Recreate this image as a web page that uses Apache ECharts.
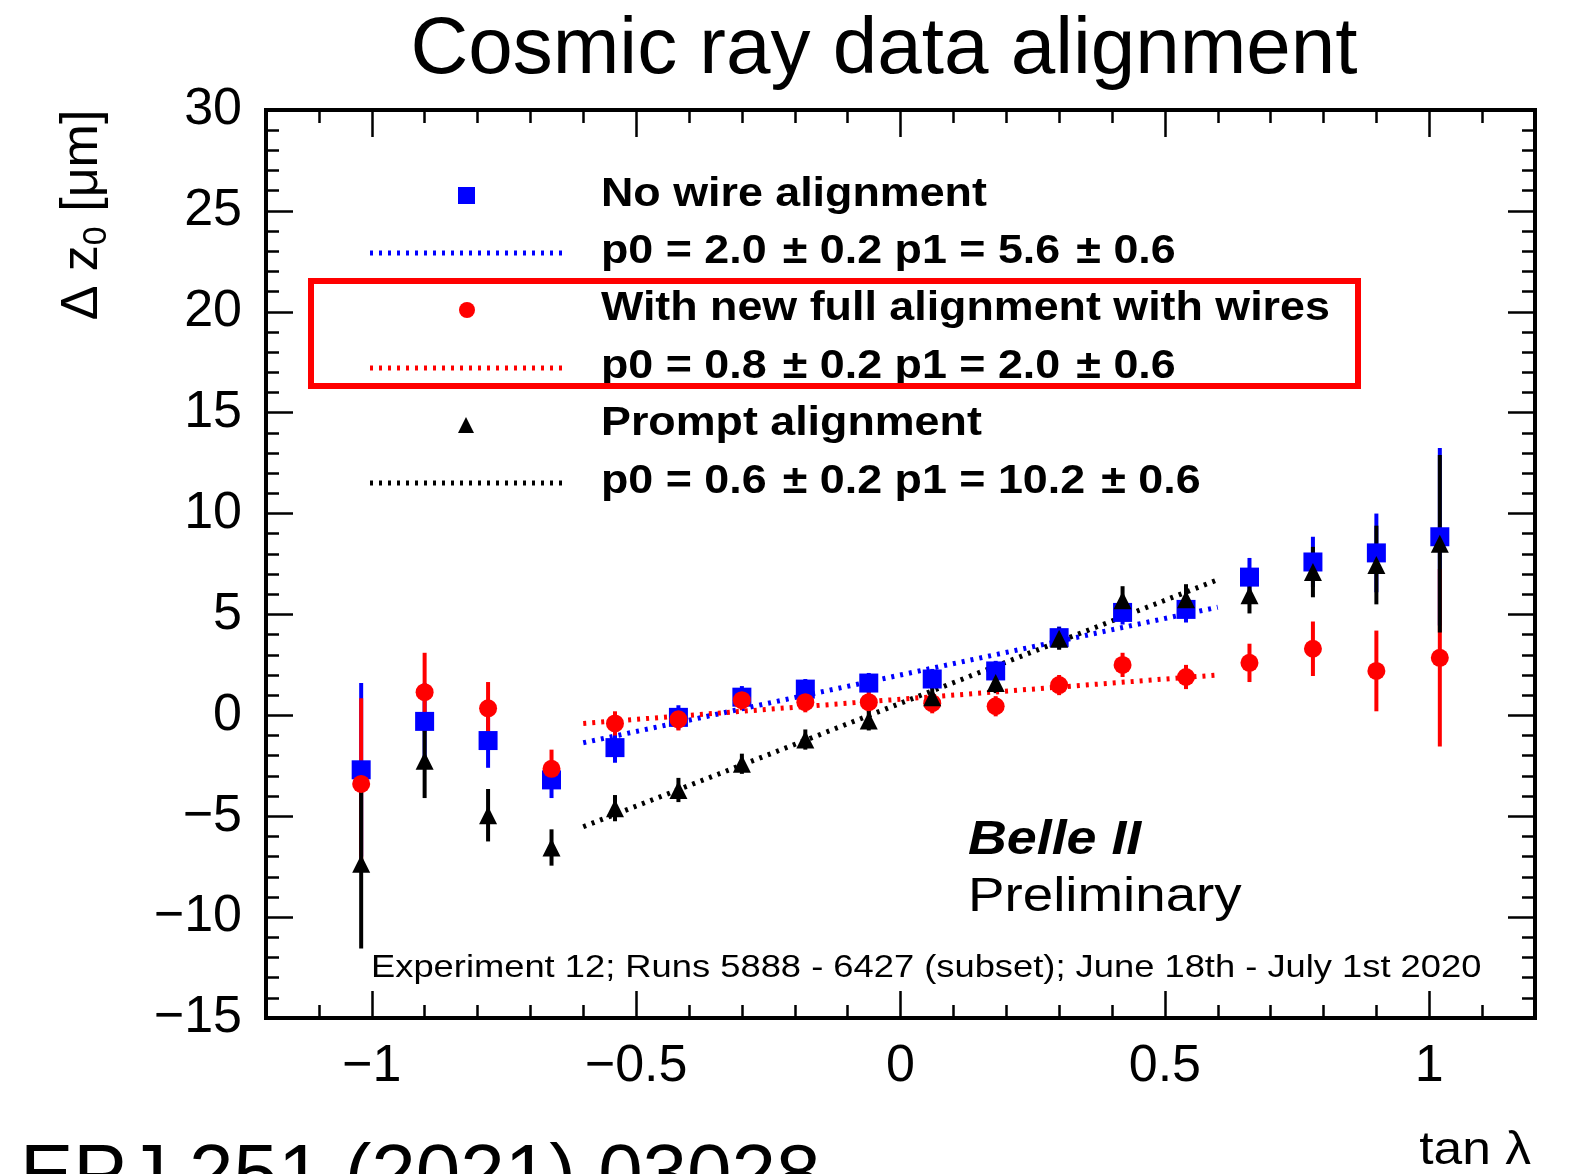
<!DOCTYPE html>
<html><head><meta charset="utf-8">
<script src="https://cdn.jsdelivr.net/npm/echarts@6/dist/echarts.min.js"></script>
<style>html,body{margin:0;padding:0;background:#fff}#c{width:1573px;height:1174px}</style>
</head><body><div id="c"></div>
<script>
// ---- data ----
const tanLambda = [-1.02,-0.90,-0.78,-0.66,-0.54,-0.42,-0.30,-0.18,-0.06,0.06,0.18,0.30,0.42,0.54,0.66,0.78,0.90,1.02];
const noWireY   = [-2.7,-0.3,-1.25,-3.2,-1.6,-0.1,0.9,1.3,1.6,1.8,2.2,3.85,5.1,5.25,6.85,7.6,8.05,8.85];
const noWireErr = [4.3,1.9,1.35,0.9,0.75,0.6,0.55,0.5,0.5,0.5,0.5,0.55,0.6,0.65,0.95,1.25,1.95,4.4];
const fullY     = [-3.4,1.15,0.35,-2.65,-0.4,-0.2,0.75,0.65,0.65,0.6,0.45,1.5,2.5,1.9,2.6,3.3,2.2,2.85];
const fullErr   = [4.25,1.95,1.3,0.95,0.6,0.55,0.5,0.5,0.5,0.5,0.5,0.5,0.6,0.6,0.95,1.35,2.0,4.4];
const promptY   = [-7.35,-2.25,-4.95,-6.55,-4.6,-3.7,-2.4,-1.2,-0.25,0.9,1.6,3.8,5.7,5.75,5.95,7.1,7.45,8.5];
const promptErr = [4.2,1.85,1.3,0.9,0.65,0.6,0.5,0.5,0.5,0.5,0.5,0.55,0.7,0.75,0.9,1.25,1.95,4.4];
const fitX         = [-0.6, 0.6];
const noWireFit    = [-1.36, 5.36];
const fullFit      = [-0.4, 2.0];
const promptFit    = [-5.52, 6.72];
const xMajorTicks  = [-1, -0.5, 0, 0.5, 1];
const xMinorTicks  = [-1.1,-0.9,-0.8,-0.7,-0.6,-0.4,-0.3,-0.2,-0.1,0.1,0.2,0.3,0.4,0.6,0.7,0.8,0.9,1.1];
const xRange = [-1.2, 1.2];
const yRange = [-15, 30];
const yStep = 5;

const FONT = '"Liberation Sans", Arial, Helvetica, sans-serif';
const minusFmt = v => (v < 0 ? '\u2212' + Math.abs(v) : String(v));

function errBar(color) {
  return function (params, api) {
    const x = api.value(0), y = api.value(1), e = api.value(2);
    const a = api.coord([x, y - e]), b = api.coord([x, y + e]);
    return { type: 'line', shape: { x1: a[0], y1: a[1], x2: b[0], y2: b[1] },
             style: { stroke: color, lineWidth: 4 } };
  };
}
const pts = (Y) => tanLambda.map((x, i) => [x, Y[i]]);
const ebs = (Y, E) => tanLambda.map((x, i) => [x, Y[i], E[i]]);
const fit = (F) => fitX.map((x, i) => [x, F[i]]);

const tickCommon = { lineStyle: { color: '#000', width: 2.5 } };
function xAxisDef(pos, values, len, labels) {
  return {
    type: 'value', position: pos, min: xRange[0], max: xRange[1],
    axisLine: { show: false, onZero: false }, splitLine: { show: false },
    axisTick: Object.assign({ show: true, inside: true, length: len, customValues: values }, tickCommon),
    axisLabel: labels ? { show: true, customValues: values, formatter: minusFmt, fontSize: 52,
                          fontFamily: FONT, color: '#000', margin: 23 } : { show: false }
  };
}
function yAxisDef(pos, labels) {
  return {
    type: 'value', position: pos, min: yRange[0], max: yRange[1], interval: yStep,
    axisLine: { show: false, onZero: false }, splitLine: { show: false },
    axisTick: Object.assign({ show: true, inside: true, length: 27 }, tickCommon),
    minorTick: { show: true, splitNumber: 5, length: 13, lineStyle: { color: '#000', width: 2.5 } },
    axisLabel: labels ? { show: true, formatter: minusFmt, fontSize: 52, fontFamily: FONT,
                          color: '#000', margin: 24 } : { show: false }
  };
}

const chart = echarts.init(document.getElementById('c'), null, { renderer: 'canvas' });
const txt = (o) => Object.assign({ type: 'text', z: 100 }, o);
const pm = ' \u200a\u00b1 ';
chart.setOption({
  animation: false,
  backgroundColor: '#fff',
  grid: { left: 266, top: 110, width: 1269, height: 908, show: true,
          borderColor: '#000', borderWidth: 4, backgroundColor: 'transparent' },
  xAxis: [
    xAxisDef('bottom', xMajorTicks, 27, true),
    xAxisDef('bottom', xMinorTicks, 13, false),
    xAxisDef('top', xMajorTicks, 27, false),
    xAxisDef('top', xMinorTicks, 13, false)
  ],
  yAxis: [ yAxisDef('left', true), yAxisDef('right', false) ],
  series: [
    { type: 'custom', name: 'No wire err', renderItem: errBar('#0000ff'), data: ebs(noWireY, noWireErr), encode: { x: 0, y: 1 }, z: 2, silent: true },
    { type: 'custom', name: 'Full err', renderItem: errBar('#ff0000'), data: ebs(fullY, fullErr), encode: { x: 0, y: 1 }, z: 2, silent: true },
    { type: 'custom', name: 'Prompt err', renderItem: errBar('#000000'), data: ebs(promptY, promptErr), encode: { x: 0, y: 1 }, z: 2, silent: true },
    { type: 'line', name: 'No wire fit', data: fit(noWireFit), showSymbol: false, z: 3,
      lineStyle: { color: '#0000ff', width: 5, type: [3, 6] } },
    { type: 'line', name: 'Full fit', data: fit(fullFit), showSymbol: false, z: 3,
      lineStyle: { color: '#ff0000', width: 5, type: [3, 6] } },
    { type: 'line', name: 'Prompt fit', data: fit(promptFit), showSymbol: false, z: 3,
      lineStyle: { color: '#000000', width: 5, type: [3, 6] } },
    { type: 'scatter', name: 'No wire alignment', data: pts(noWireY), symbol: 'rect', symbolSize: 19, z: 4,
      itemStyle: { color: '#0000ff', opacity: 1 } },
    { type: 'scatter', name: 'With new full alignment with wires', data: pts(fullY), symbol: 'circle', symbolSize: 18, z: 5,
      itemStyle: { color: '#ff0000', opacity: 1 } },
    { type: 'scatter', name: 'Prompt alignment', data: pts(promptY), symbol: 'triangle', symbolSize: 18, z: 6,
      itemStyle: { color: '#000000', opacity: 1 } }
  ],
  graphic: [
    txt({ x: 884, y: 51, style: { text: 'Cosmic ray data alignment', fontSize: 80, fontFamily: FONT, fill: '#000', align: 'center', verticalAlign: 'middle' } }),
    txt({ x: 20, y: 1178, style: { text: 'EPJ 251 (2021) 03028', fontSize: 80, fontFamily: FONT, fill: '#000', align: 'left', verticalAlign: 'middle' } }),
    txt({ x: 1531, y: 1151, scaleX: 1.12, style: { text: 'tan \u03bb', fontSize: 46, fontFamily: FONT, fill: '#000', align: 'right', verticalAlign: 'middle' } }),
    txt({ x: 83, y: 215, rotation: Math.PI / 2,
          style: { text: '{n|\u0394 z}{s|0}{n| [\u03bcm]}', align: 'center', verticalAlign: 'middle', fill: '#000',
                   rich: { n: { fontSize: 52, fontFamily: FONT, lineHeight: 62 },
                           s: { fontSize: 34, fontFamily: FONT, lineHeight: 34, verticalAlign: 'bottom' } } } }),
    // legend
    { type: 'rect', z: 100, shape: { x: 458, y: 187, width: 17, height: 17 }, style: { fill: '#0000ff' } },
    { type: 'line', z: 100, shape: { x1: 370, y1: 253, x2: 562, y2: 253 }, style: { stroke: '#0000ff', lineWidth: 5, lineDash: [3, 6] } },
    { type: 'circle', z: 100, shape: { cx: 467, cy: 310, r: 8 }, style: { fill: '#ff0000' } },
    { type: 'line', z: 100, shape: { x1: 370, y1: 368, x2: 562, y2: 368 }, style: { stroke: '#ff0000', lineWidth: 5, lineDash: [3, 6] } },
    { type: 'polygon', z: 100, shape: { points: [[466, 417], [474, 433], [458, 433]] }, style: { fill: '#000' } },
    { type: 'line', z: 100, shape: { x1: 370, y1: 483, x2: 562, y2: 483 }, style: { stroke: '#000', lineWidth: 5, lineDash: [3, 6] } },
    txt({ x: 601, y: 195, scaleX: 1.12, style: { text: 'No wire alignment', fontSize: 40, fontWeight: 'bold', fontFamily: FONT, fill: '#000', verticalAlign: 'middle' } }),
    txt({ x: 601, y: 252, scaleX: 1.12, style: { text: 'p0 = 2.0' + pm + '0.2 p1 = 5.6' + pm + '0.6', fontSize: 40, fontWeight: 'bold', fontFamily: FONT, fill: '#000', verticalAlign: 'middle' } }),
    txt({ x: 601, y: 309, scaleX: 1.12, style: { text: 'With new full alignment with wires', fontSize: 40, fontWeight: 'bold', fontFamily: FONT, fill: '#000', verticalAlign: 'middle' } }),
    txt({ x: 601, y: 367, scaleX: 1.12, style: { text: 'p0 = 0.8' + pm + '0.2 p1 = 2.0' + pm + '0.6', fontSize: 40, fontWeight: 'bold', fontFamily: FONT, fill: '#000', verticalAlign: 'middle' } }),
    txt({ x: 601, y: 424, scaleX: 1.12, style: { text: 'Prompt alignment', fontSize: 40, fontWeight: 'bold', fontFamily: FONT, fill: '#000', verticalAlign: 'middle' } }),
    txt({ x: 601, y: 482, scaleX: 1.12, style: { text: 'p0 = 0.6' + pm + '0.2 p1 = 10.2' + pm + '0.6', fontSize: 40, fontWeight: 'bold', fontFamily: FONT, fill: '#000', verticalAlign: 'middle' } }),
    { type: 'rect', z: 100, shape: { x: 311, y: 281, width: 1047, height: 105 }, style: { fill: 'none', stroke: '#ff0000', lineWidth: 6 } },
    // annotations
    txt({ x: 968, y: 841, scaleX: 1.12, style: { text: 'Belle II', fontSize: 48, fontWeight: 'bold', fontStyle: 'italic', fontFamily: FONT, fill: '#000', verticalAlign: 'middle' } }),
    txt({ x: 968, y: 898, scaleX: 1.14, style: { text: 'Preliminary', fontSize: 48, fontFamily: FONT, fill: '#000', verticalAlign: 'middle' } }),
    txt({ x: 371, y: 968, scaleX: 1.135, style: { text: 'Experiment 12; Runs 5888 - 6427 (subset); June 18th - July 1st 2020', fontSize: 32, fontFamily: FONT, fill: '#000', verticalAlign: 'middle' } })
  ]
});
</script></body></html>
